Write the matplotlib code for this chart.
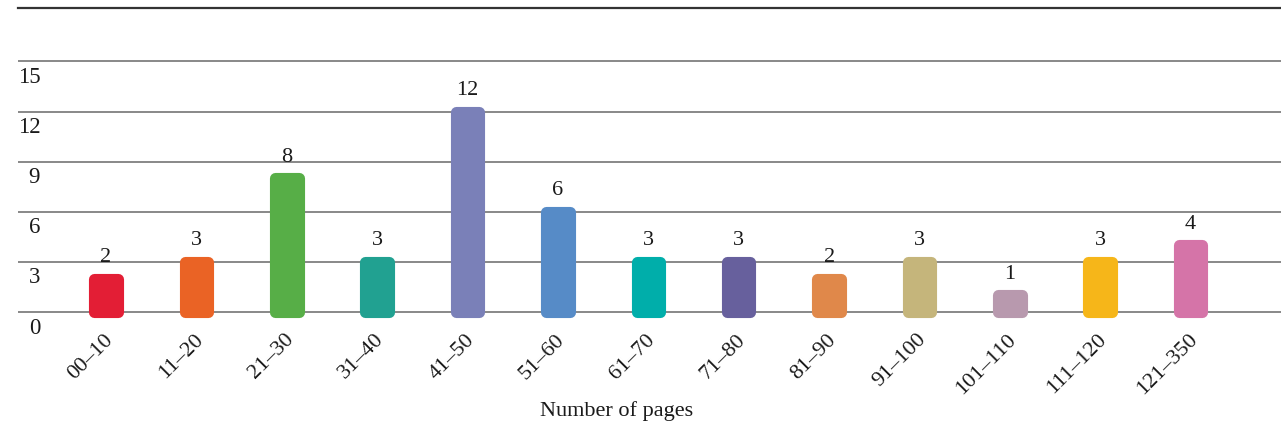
import matplotlib
matplotlib.use("Agg")
import matplotlib.pyplot as plt
import matplotlib.transforms as mtransforms

categories = ["00–10", "11–20", "21–30", "31–40", "41–50", "51–60", "61–70",
              "71–80", "81–90", "91–100", "101–110", "111–120", "121–350"]
counts = [2, 3, 8, 3, 12, 6, 3, 3, 2, 3, 1, 3, 4]
colors = ["#E31E35", "#EA6325", "#57AE47", "#21A191", "#7A80B8", "#568BC7",
          "#00AEAA", "#67609D", "#E0884A", "#C5B57B", "#B899AE", "#F6B619",
          "#D574A8"]
yticks = [0, 3, 6, 9, 12, 15]
xlabel = "Number of pages"

plt.rcParams['font.family'] = ['Liberation Serif', 'DejaVu Serif']

W, H = 1281, 429
fig = plt.figure(figsize=(W / 100, H / 100), dpi=100)
ax = fig.add_axes([18 / W, (H - 322) / H, 1 - 18 / W, (322 - 8) / H])

x = list(range(len(categories)))
ax.bar(x, counts, width=0.26, color=colors, edgecolor=colors, linewidth=8,
       joinstyle='round', zorder=3)

for xi, v in zip(x, counts):
    ax.annotate(str(v), (xi, v), xytext=(0, 12), textcoords='offset points',
                ha='center', va='baseline', fontsize=16, color='#1a1a1a')

ax.set_xlim(-0.974, 13.0)
ax.set_ylim(-0.6, 18.2)

ax.set_yticks(yticks)
ax.set_yticklabels([str(t) for t in yticks])
ax.grid(axis='y', color='#888888', linewidth=1.4, zorder=0)
ax.tick_params(axis='y', length=0, pad=-16, labelsize=16.5, labelcolor='#1a1a1a')
yoff = mtransforms.ScaledTranslation(0, -4 / 72, fig.dpi_scale_trans)
for lbl in ax.get_yticklabels():
    lbl.set_verticalalignment('top')
    lbl.set_horizontalalignment('right')
    lbl.set_transform(lbl.get_transform() + yoff)

ax.set_xticks(x)
ax.set_xticklabels(categories, rotation=45, ha='right', va='top',
                   rotation_mode='anchor', fontsize=16, color='#1a1a1a')
ax.tick_params(axis='x', length=0, pad=6)
offset = mtransforms.ScaledTranslation(-2 / 72, 0, fig.dpi_scale_trans)
for lbl in ax.get_xticklabels():
    lbl.set_transform(lbl.get_transform() + offset)

for s in ['left', 'right', 'bottom']:
    ax.spines[s].set_visible(False)
ax.spines['top'].set_color('#333333')
ax.spines['top'].set_linewidth(1.6)

fig.text(617 / W, (H - 411) / H, xlabel, ha='center', va='center',
         fontsize=16, color='#1a1a1a')

fig.savefig("out.png", dpi=100)
